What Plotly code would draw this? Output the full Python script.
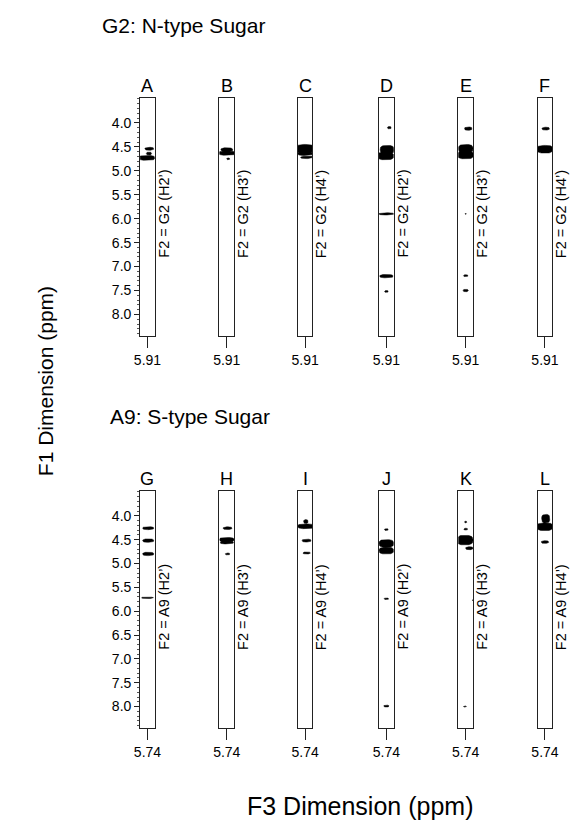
import numpy as np
import plotly.graph_objects as go

W, H = 574, 825

# ---------------- data ----------------
strip_letters_top = ["A", "B", "C", "D", "E", "F"]
strip_letters_bot = ["G", "H", "I", "J", "K", "L"]
labels_top = ["F2 = G2 (H2’)", "F2 = G2 (H3’)", "F2 = G2 (H4’)",
              "F2 = G2 (H2’)", "F2 = G2 (H3’)", "F2 = G2 (H4’)"]
labels_bot = ["F2 = A9 (H2’)", "F2 = A9 (H3’)", "F2 = A9 (H4’)",
              "F2 = A9 (H2’)", "F2 = A9 (H3’)", "F2 = A9 (H4’)"]
f3_top = 5.91
f3_bot = 5.74
y_ticks = [4.0, 4.5, 5.0, 5.5, 6.0, 6.5, 7.0, 7.5, 8.0]

# peaks per strip: (F1 ppm, x offset in strip half-widths, half width, half height in ppm)
peaks_A = [(4.54, -0.25, 0.6, 0.03), (4.64, -0.2, 0.35, 0.03), (4.73, 0.1, 1.1, 0.05)]
peaks_B = [(4.56, 0.0, 0.8, 0.04), (4.63, 0.0, 1.1, 0.045), (4.75, -0.2, 0.2, 0.02)]
peaks_C = [(4.54, 0.0, 1.2, 0.09), (4.64, 0.0, 1.0, 0.04), (4.72, -0.3, 0.9, 0.025)]
peaks_D = [(4.10, -0.4, 0.25, 0.025), (4.56, -0.1, 0.95, 0.09), (4.69, 0.1, 1.1, 0.08),
           (5.90, 0.0, 1.0, 0.022), (7.20, 0.0, 0.9, 0.035), (7.52, 0.0, 0.25, 0.02)]
peaks_E = [(4.12, -0.35, 0.5, 0.035), (4.54, 0.0, 1.0, 0.09), (4.67, 0.0, 1.1, 0.08),
           (5.90, 0.0, 0.08, 0.01), (7.19, 0.0, 0.3, 0.02), (7.50, 0.0, 0.35, 0.025)]
peaks_F = [(4.12, -0.1, 0.5, 0.03), (4.55, 0.0, 1.1, 0.08)]
peaks_G = [(4.26, -0.1, 0.75, 0.03), (4.52, -0.1, 0.75, 0.035), (4.80, -0.1, 0.75, 0.035),
           (5.72, 0.0, 0.8, 0.015)]
peaks_H = [(4.26, -0.1, 0.6, 0.028), (4.50, 0.0, 1.0, 0.045), (4.56, 0.0, 0.9, 0.03),
           (4.80, -0.1, 0.3, 0.02)]
peaks_I = [(4.12, -0.1, 0.3, 0.04), (4.22, -0.1, 1.1, 0.05), (4.52, -0.2, 0.6, 0.03),
           (4.78, -0.2, 0.5, 0.02)]
peaks_J = [(4.29, 0.0, 0.25, 0.02), (4.58, 0.0, 1.0, 0.08), (4.73, 0.0, 1.0, 0.07),
           (5.74, 0.0, 0.3, 0.016), (7.99, 0.0, 0.35, 0.02)]
peaks_K = [(4.13, 0.0, 0.15, 0.02), (4.28, 0.0, 0.25, 0.02), (4.51, 0.1, 1.1, 0.1),
           (4.68, -0.5, 0.5, 0.03), (5.77, -1.0, 0.1, 0.01), (8.00, 0.1, 0.2, 0.012)]
peaks_L = [(4.06, -0.1, 0.55, 0.09), (4.23, 0.0, 1.1, 0.08), (4.55, 0.0, 0.5, 0.028)]

peaks_top = [peaks_A, peaks_B, peaks_C, peaks_D, peaks_E, peaks_F]
peaks_bot = [peaks_G, peaks_H, peaks_I, peaks_J, peaks_K, peaks_L]

# ---------------- layout geometry (pixels) ----------------
strip_left = [137, 218, 298, 381, 462, 543]
strip_w = 15
top_y0, top_y1 = 98, 336
bot_y0, bot_y1 = 491, 728
y_range = [8.45, 3.48]
F3_HALF = 0.06

FONT = "Arial, Liberation Sans, sans-serif"

fig = go.Figure()
layout = dict(
    width=W, height=H,
    margin=dict(l=0, r=0, t=0, b=0),
    paper_bgcolor="white", plot_bgcolor="white",
    showlegend=False,
    font=dict(family=FONT, color="black"),
    annotations=[],
)

t = np.linspace(0, 2 * np.pi, 60)


def blob_path(peaks, f3c):
    xs, ys = [], []
    for (f1, dx, hw, hh) in peaks:
        c, s = np.cos(t), np.sin(t)
        ex = np.sign(c) * np.abs(c) ** (2 / 3.0)
        ey = np.sign(s) * np.abs(s) ** (2 / 3.0)
        xs += list(f3c + (dx + hw * ex) * F3_HALF) + [None]
        ys += list(f1 + hh * ey) + [None]
    return xs, ys


idx = 0
for row, (letters, labels, peaks_row, f3c, (py0, py1)) in enumerate([
        (strip_letters_top, labels_top, peaks_top, f3_top, (top_y0, top_y1)),
        (strip_letters_bot, labels_bot, peaks_bot, f3_bot, (bot_y0, bot_y1))]):
    for k in range(6):
        idx += 1
        sx = "" if idx == 1 else str(idx)
        xa, ya = "x" + sx, "y" + sx
        left = strip_left[k]
        xs, ys = blob_path(peaks_row[k], f3c)
        fig.add_trace(go.Scatter(x=xs, y=ys, mode="lines", fill="toself",
                                 fillcolor="black", line=dict(color="black", width=0.5),
                                 xaxis=xa, yaxis=ya, hoverinfo="skip"))
        layout["xaxis" + sx] = dict(
            domain=[left / W, (left + strip_w) / W], anchor=ya,
            range=[f3c + F3_HALF, f3c - F3_HALF],
            tickmode="array", tickvals=[f3c], ticktext=[f"{f3c:.2f}"],
            ticks="outside", ticklen=11, tickwidth=1, tickcolor="#222",
            tickfont=dict(size=14, family=FONT, color="black"),
            showline=True, linecolor="#222", linewidth=1, mirror=True,
            showgrid=False, zeroline=False, fixedrange=True)
        yax = dict(
            domain=[1 - py1 / H, 1 - py0 / H], anchor=xa,
            range=y_range, showline=True, linecolor="#222", linewidth=1, mirror=True,
            showgrid=False, zeroline=False, fixedrange=True)
        if k == 0:
            yax.update(tickmode="array", tickvals=y_ticks,
                       ticktext=[f"{v:.1f}" for v in y_ticks],
                       ticks="outside", ticklen=5, tickwidth=1, tickcolor="#222",
                       tickfont=dict(size=14, family=FONT, color="black"),
                       minor=dict(tick0=0, dtick=0.1, ticks="outside", ticklen=2.5,
                                  tickcolor="#555", tickwidth=1))
        else:
            yax.update(ticks="", showticklabels=False)
        layout["yaxis" + sx] = yax
        # strip letter
        layout["annotations"].append(dict(
            x=(left + strip_w / 2) / W, y=1 - (py0 - 12) / H, xref="paper", yref="paper",
            text=letters[k], showarrow=False, xanchor="center", yanchor="middle",
            font=dict(size=18, family=FONT, color="black")))
        # rotated F2 label
        layout["annotations"].append(dict(
            x=(left + strip_w + 9) / W, y=1 - (py0 + 116) / H, xref="paper", yref="paper",
            text=labels[k], showarrow=False, textangle=-90,
            xanchor="center", yanchor="middle",
            font=dict(size=14.5, family=FONT, color="black")))

# titles
layout["annotations"] += [
    dict(x=96 / W, y=1 - 26 / H, xref="paper", yref="paper", text="G2: N-type Sugar",
         showarrow=False, xanchor="left", yanchor="middle",
         font=dict(size=21, family=FONT, color="black")),
    dict(x=104 / W, y=1 - 416 / H, xref="paper", yref="paper", text="A9: S-type Sugar",
         showarrow=False, xanchor="left", yanchor="middle",
         font=dict(size=21, family=FONT, color="black")),
    dict(x=40 / W, y=1 - 381 / H, xref="paper", yref="paper", text="F1 Dimension (ppm)",
         showarrow=False, textangle=-90, xanchor="center", yanchor="middle",
         font=dict(size=21, family=FONT, color="black")),
    dict(x=362 / W, y=1 - 806 / H, xref="paper", yref="paper", text="F3 Dimension (ppm)",
         showarrow=False, xanchor="center", yanchor="middle",
         font=dict(size=25, family=FONT, color="black")),
]

fig.update_layout(**layout)
fig.write_html("out.html")
